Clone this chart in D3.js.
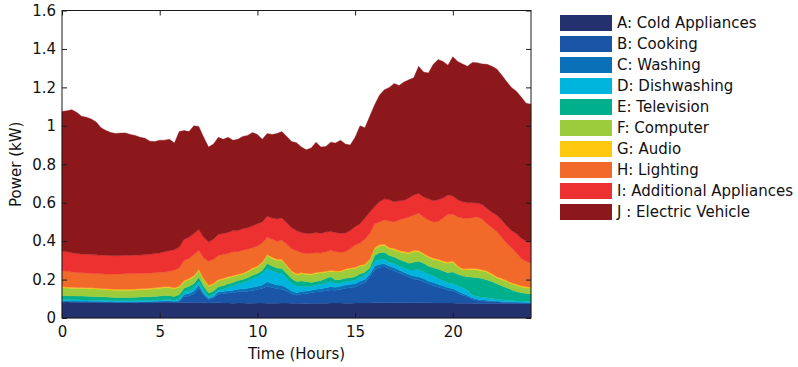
<!DOCTYPE html>
<html>
<head>
<meta charset="utf-8">
<script src="https://cdn.jsdelivr.net/npm/d3@7/dist/d3.min.js"></script>
<style>
  html, body { margin: 0; padding: 0; background: #fff; }
  svg { display: block; font-family: "DejaVu Sans", sans-serif; }
</style>
</head>
<body>
<svg id="chart" width="798" height="367"></svg>
<script>
// Household load profile, 15-minute steps over 24 hours (kW)
const hours = d3.range(0, 97).map(i => i / 4);

const categories = [
  "A: Cold Appliances", "B: Cooking", "C: Washing", "D: Dishwashing",
  "E: Television", "F: Computer", "G: Audio", "H: Lighting",
  "I: Additional Appliances", "J : Electric Vehicle"
];

const coldAppliances = [
  .082,.083,.082,.082, .081,.082,.081,.081, .08,.08,.08,.079, .079,.079,.079,.079, .08,.08,.08,.081, .081,.082,.082,.08,
  .081,.08,.079,.08, .081,.079,.078,.079, .079,.078,.078,.077, .078,.078,.077,.077, .078,.078,.077,.077, .077,.078,.078,.077,
  .077,.077,.076,.077, .077,.077,.077,.078, .078,.078,.077,.077, .078,.078,.078,.078,
  .079,.079,.08,.08, .079,.079,.079,.08, .08,.079,.079,.079, .078,.078,.078,.078, .078,.077,.077,.077, .077,.076,.076,.076,
  .076,.075,.075,.075, .075,.074,.074,.074, .074
];
const cooking = [
  .003,.003,.003,.003, .003,.003,.003,.003, .003,.003,.003,.003, .003,.003,.003,.003, .003,.003,.003,.003, .003,.003,.003,.003,
  .006,.03,.036,.045, .075,.04,.018,.025, .045,.048,.052,.055, .058,.06,.062,.066, .07,.075,.088,.082, .075,.072,.062,.048,
  .042,.048,.05,.055, .058,.06,.065,.068, .066,.07,.078,.08, .083,.095,.105,.135,
  .172,.185,.187,.175, .167,.155,.143,.133, .122,.12,.11,.098, .09,.082,.075,.066, .063,.052,.042,.033, .022,.016,.013,.011,
  .01,.009,.007,.006, .006,.005,.005,.004, .004
];
const washing = [
  .005,.004,.004,.004, .004,.003,.003,.003, .003,.002,.002,.002, .002,.002,.002,.002, .002,.002,.003,.003, .004,.005,.005,.004,
  .005,.012,.013,.015, .016,.009,.007,.008, .012,.012,.012,.013, .014,.014,.016,.017, .017,.019,.023,.021, .02,.02,.018,.015,
  .013,.013,.014,.013, .015,.015,.016,.017, .016,.017,.017,.018, .017,.019,.017,.015,
  .019,.016,.015,.015, .016,.016,.016,.015, .016,.016,.016,.016, .017,.015,.015,.014, .012,.011,.009,.008, .006,.006,.006,.005,
  .004,.004,.004,.004, .003,.004,.003,.003, .002
];
const dishwashing = [
  .006,.006,.006,.006, .006,.006,.006,.006, .006,.006,.005,.006, .006,.006,.006,.006, .006,.006,.006,.006, .006,.006,.006,.006,
  .008,.013,.014,.015, .016,.014,.009,.01, .009,.012,.018,.021, .028,.031,.037,.045, .05,.058,.07,.065, .063,.062,.047,.04,
  .033,.028,.024,.02, .022,.023,.024,.027, .02,.017,.016,.017, .019,.02,.02,.017,
  .025,.025,.023,.02, .02,.02,.022,.022, .032,.037,.037,.035, .033,.03,.027,.024, .027,.028,.03,.027, .015,.014,.013,.013,
  .012,.01,.009,.008, .007,.006,.006,.006, .006
];
const television = [
  .021,.02,.02,.019, .02,.019,.019,.018, .018,.018,.018,.017, .017,.017,.017,.018, .018,.019,.019,.019, .02,.021,.02,.019,
  .022,.02,.023,.025, .024,.023,.018,.018, .017,.018,.018,.019, .017,.017,.018,.017, .017,.018,.025,.025, .025,.026,.027,.025,
  .025,.026,.026,.02, .018,.02,.023,.025, .018,.018,.019,.018, .018,.018,.018,.017,
  .03,.035,.037,.035, .036,.035,.035,.035, .04,.043,.043,.042, .044,.05,.05,.053, .06,.06,.062,.07, .092,.098,.097,.093,
  .088,.08,.073,.065, .056,.049,.044,.041, .039
];
const computer = [
  .04,.04,.04,.04, .04,.04,.04,.04, .039,.038,.038,.038, .038,.038,.038,.038, .038,.038,.039,.04, .041,.041,.041,.04,
  .038,.035,.035,.035, .036,.035,.035,.035, .033,.032,.032,.03, .027,.028,.03,.033, .033,.037,.042,.04, .04,.042,.038,.035,
  .035,.038,.038,.04, .042,.04,.033,.027, .042,.04,.043,.045, .043,.04,.037,.038,
  .035,.035,.036,.035, .037,.04,.045,.05, .055,.05,.045,.045, .043,.045,.045,.05, .05,.037,.03,.035, .04,.04,.04,.04,
  .035,.032,.032,.032, .031,.032,.031,.03, .03
];
const audio = [
  .005,.005,.005,.005, .005,.005,.005,.005, .005,.005,.005,.005, .005,.005,.005,.005, .005,.005,.005,.005, .005,.005,.005,.005,
  .005,.005,.005,.005, .005,.005,.005,.005, .005,.005,.005,.005, .005,.005,.005,.005, .005,.005,.006,.006, .006,.006,.005,.005,
  .005,.005,.005,.005, .005,.005,.005,.005, .005,.005,.005,.005, .005,.005,.005,.005,
  .006,.006,.006,.006, .006,.006,.006,.006, .006,.006,.006,.006, .006,.006,.006,.006, .006,.006,.006,.006, .006,.006,.006,.006,
  .005,.005,.005,.005, .005,.005,.005,.005, .005
];
const lighting = [
  .084,.083,.08,.078, .076,.076,.075,.075, .076,.077,.078,.078, .079,.08,.081,.081, .08,.08,.079,.079, .078,.077,.081,.091,
  .095,.105,.105,.11, .099,.107,.125,.125, .125,.125,.12,.125, .118,.119,.113,.105, .105,.1,.089,.094, .094,.099,.11,.115,
  .12,.105,.103,.106, .103,.098,.102,.105, .1,.097,.09,.1, .117,.115,.13,.135,
  .124,.119,.126,.139, .139,.159,.172,.184, .184,.194,.189,.189, .189,.196,.224,.249, .244,.254,.264,.262, .264,.27,.264,.246,
  .24,.235,.215,.195, .182,.165,.142,.132, .124
];
const additional = [
  .102,.101,.1,.098, .098,.098,.098,.098, .097,.097,.096,.096, .096,.096,.095,.095, .096,.097,.098,.099, .1,.105,.107,.107,
  .11,.11,.11,.11, .108,.108,.1,.105, .11,.11,.11,.11, .11,.113,.112,.115, .115,.11,.11,.11, .115,.115,.11,.11,
  .105,.105,.104,.104, .105,.102,.103,.098, .1,.098,.097,.095, .095,.1,.11,.11,
  .09,.105,.11,.11, .105,.1,.094,.1, .105,.103,.105,.11, .11,.113,.105,.1, .095,.09,.085,.082, .078,.072,.075,.08,
  .08,.085,.09,.09, .09,.1,.105,.105, .111
];
const electricVehicle = [
  .727,.733,.744,.735, .717,.713,.705,.691, .663,.649,.64,.636, .637,.637,.629,.623, .612,.605,.588,.583, .587,.58,.58,.555,
  .6,.565,.55,.56, .537,.52,.495,.495, .505,.49,.495,.47, .475,.48,.48,.485, .465,.43,.43,.435, .445,.45,.45,.448,
  .457,.445,.435,.445, .47,.45,.444,.465, .465,.485,.463,.445, .465,.51,.47,.5,
  .53,.555,.568,.585, .615,.6,.616,.615, .61,.662,.65,.655, .71,.73,.71,.675, .725,.72,.717,.71, .73,.73,.732,.75,
  .76,.76,.755,.75, .745,.74,.735,.718, .717
];

const seriesValues = [coldAppliances, cooking, washing, dishwashing, television,
  computer, audio, lighting, additional, electricVehicle];
const colors = ["#24316f", "#1a55a7", "#0a70b8", "#00b5dd", "#00b08d",
  "#9ccb3b", "#fdc80d", "#f26a2a", "#ed3131", "#8c181c"];

const xTicks = [0, 5, 10, 15, 20];
const yTicks = [0, 0.2, 0.4, 0.6, 0.8, 1, 1.2, 1.4, 1.6];

// Plot frame
const plot = { left: 62, right: 531, top: 10.5, bottom: 318 };

const svg = d3.select("#chart");
const x = d3.scaleLinear().domain([0, 24]).range([plot.left, plot.right]);
const y = d3.scaleLinear().domain([0, 1.6]).range([plot.bottom, plot.top]);

// Rows of the table for stacking
const rows = hours.map((h, i) => {
  const r = { h };
  categories.forEach((c, k) => { r[c] = seriesValues[k][i]; });
  return r;
});
const stacked = d3.stack().keys(categories)(rows);

const area = d3.area()
  .x(d => x(d.data.h))
  .y0(d => y(d[0]))
  .y1(d => y(d[1]))
  .curve(d3.curveLinear);

svg.append("g").selectAll("path")
  .data(stacked)
  .join("path")
  .attr("d", area)
  .attr("fill", (d, i) => colors[i])
  .attr("stroke", (d, i) => colors[i])
  .attr("stroke-width", 0.4);

// Axes, ticks pointing inward on all four sides
const fontSize = 15;
const axisColor = "#1a1a1a";

const axisBottomG = svg.append("g")
  .attr("transform", `translate(0,${plot.bottom})`)
  .call(d3.axisBottom(x).tickValues(xTicks).tickSizeInner(-5).tickSizeOuter(0).tickPadding(8).tickFormat(d3.format("d")));
const axisTopG = svg.append("g")
  .attr("transform", `translate(0,${plot.top})`)
  .call(d3.axisTop(x).tickValues(xTicks).tickSizeInner(-5).tickSizeOuter(0).tickFormat(""));
const axisLeftG = svg.append("g")
  .attr("transform", `translate(${plot.left},0)`)
  .call(d3.axisLeft(y).tickValues(yTicks).tickSizeInner(-5).tickSizeOuter(0).tickPadding(6).tickFormat(d => d3.format("~g")(d)));
const axisRightG = svg.append("g")
  .attr("transform", `translate(${plot.right},0)`)
  .call(d3.axisRight(y).tickValues(yTicks).tickSizeInner(-5).tickSizeOuter(0).tickFormat(""));

[axisBottomG, axisTopG, axisLeftG, axisRightG].forEach(g => {
  g.select(".domain").remove();
  g.selectAll(".tick line").attr("stroke", axisColor);
  g.selectAll(".tick text")
    .attr("fill", "#111")
    .style("font-size", fontSize + "px")
    .style("font-family", "DejaVu Sans, sans-serif");
});

// Frame
svg.append("rect")
  .attr("x", plot.left).attr("y", plot.top)
  .attr("width", plot.right - plot.left).attr("height", plot.bottom - plot.top)
  .attr("fill", "none").attr("stroke", axisColor).attr("stroke-width", 1);

// Axis titles
svg.append("text")
  .attr("x", (plot.left + plot.right) / 2)
  .attr("y", 359)
  .attr("text-anchor", "middle")
  .style("font-size", fontSize + "px")
  .attr("fill", "#111")
  .text("Time (Hours)");

svg.append("text")
  .attr("transform", `translate(21,${(plot.top + plot.bottom) / 2}) rotate(-90)`)
  .attr("text-anchor", "middle")
  .style("font-size", fontSize + "px")
  .attr("fill", "#111")
  .text("Power (kW)");

// Legend
const legend = svg.append("g").attr("transform", "translate(560,15)");
const item = legend.selectAll("g")
  .data(categories)
  .join("g")
  .attr("transform", (d, i) => `translate(0,${i * 21})`);
item.append("rect")
  .attr("width", 52).attr("height", 16)
  .attr("fill", (d, i) => colors[i]);
item.append("text")
  .attr("x", 57).attr("y", 8)
  .attr("dy", "0.36em")
  .style("font-size", fontSize + "px")
  .attr("fill", "#111")
  .text(d => d);
</script>
</body>
</html>
